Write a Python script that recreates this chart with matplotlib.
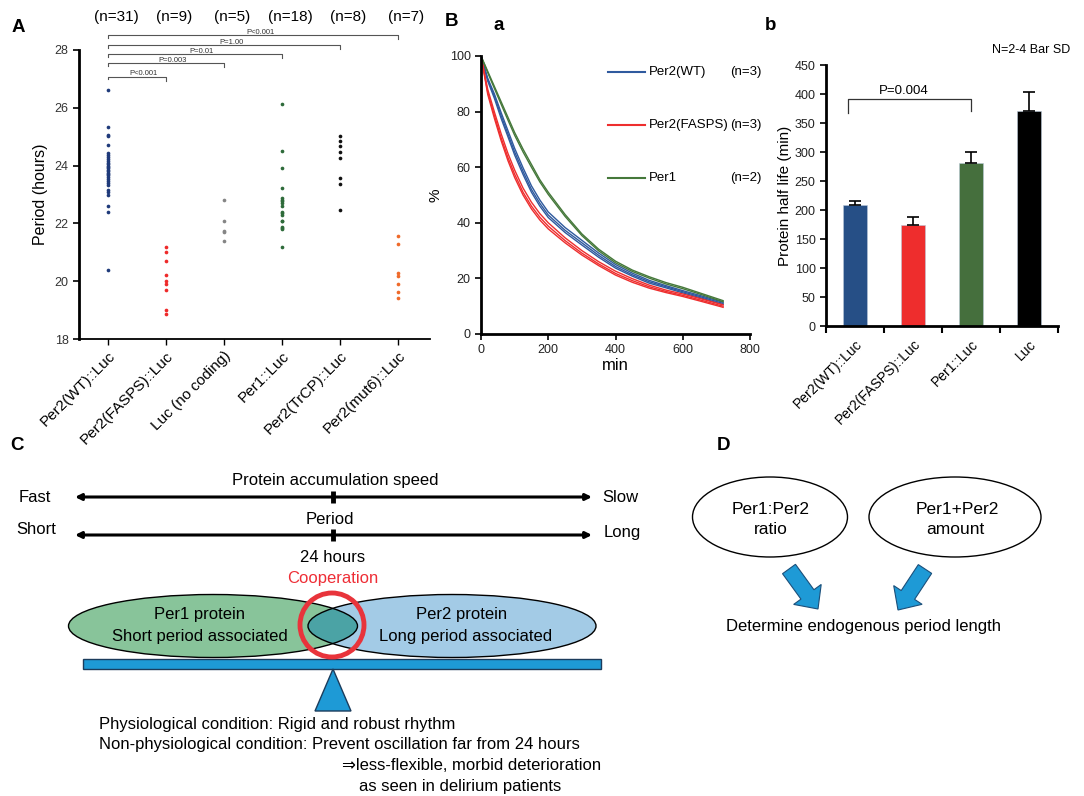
import matplotlib.pyplot as plt
import matplotlib as mpl
from matplotlib.patches import Ellipse, Circle, Rectangle, Polygon, FancyArrow

mpl.rcParams["font.family"] = ["Liberation Sans", "DejaVu Sans"]

W, H = 1084, 796

# ---------------- Panel A: period per construct ----------------
constructs = ["Per2(WT)::Luc", "Per2(FASPS)::Luc", "Luc (no coding)",
              "Per1::Luc", "Per2(TrCP)::Luc", "Per2(mut6)::Luc"]
n_labels = ["(n=31)", "(n=9)", "(n=5)", "(n=18)", "(n=8)", "(n=7)"]
period_wt = [26.6, 25.33, 25.05, 25.02, 24.73, 24.44, 24.38, 24.3, 24.22,
             24.15, 24.1, 24.05, 24.0, 23.95, 23.9, 23.85, 23.8, 23.75,
             23.72, 23.68, 23.62, 23.55, 23.45, 23.4, 23.34, 23.17, 23.1,
             23.0, 22.6, 22.4, 20.4]
period_fasps = [21.2, 21.0, 20.69, 20.2, 19.99, 19.9, 19.69, 18.99, 18.88]
period_luc = [22.81, 22.1, 21.72, 21.7, 21.4]
period_per1 = [26.14, 24.52, 23.92, 23.21, 22.88, 22.82, 22.76, 22.7, 22.61,
               22.4, 22.35, 22.29, 22.1, 22.07, 21.88, 21.84, 21.8, 21.2]
period_trcp = [25.02, 24.84, 24.67, 24.46, 24.25, 23.57, 23.35, 22.45]
period_mut6 = [21.55, 21.3, 20.27, 20.17, 19.91, 19.62, 19.42]
periods = [period_wt, period_fasps, period_luc, period_per1, period_trcp, period_mut6]
dot_colors = ["#1f3a7a", "#ee2a2a", "#858585", "#2e6b3a", "#111111", "#ef6a2a"]
comparisons = [(1, "P<0.001"), (2, "P=0.003"), (3, "P=0.01"),
               (4, "P=1.00"), (5, "P<0.001")]

# ---------------- Panel B-a: degradation curves ----------------
t_min = [0, 20, 40, 60, 80, 100, 125, 150, 175, 200, 250, 300, 350, 400,
         450, 500, 550, 600, 650, 720]
per2_wt_reps = [
    [100, 91.5, 85.5, 78.5, 72, 65.5, 58.5, 52, 47, 42.8, 37.3, 32.8, 28.3, 24.3, 21.3, 18.8, 17.0, 15.2, 13.5, 11.0],
    [100, 92, 86.3, 79.6, 73.2, 66.8, 59.8, 53.3, 48.2, 43.9, 38.3, 33.7, 29.1, 25.0, 21.9, 19.3, 17.4, 15.6, 13.9, 11.4],
    [100, 91, 84.7, 77.5, 71, 64.4, 57.4, 51, 46, 41.9, 36.5, 32.0, 27.6, 23.7, 20.8, 18.3, 16.6, 14.8, 13.1, 10.6],
]
per2_fasps_reps = [
    [100, 87, 78.5, 70.5, 63.5, 57.5, 51, 46, 42, 38.8, 33.6, 29.1, 25.2, 21.8, 19.2, 17.0, 15.3, 13.9, 12.3, 10.0],
    [100, 88, 79.8, 72, 65, 59, 52.5, 47.4, 43.3, 40.0, 34.6, 30.0, 26.0, 22.6, 19.9, 17.6, 15.8, 14.4, 12.8, 10.5],
    [100, 86.2, 77.5, 69.5, 62.4, 56.3, 50, 45, 41, 37.8, 32.8, 28.4, 24.6, 21.2, 18.6, 16.5, 14.9, 13.5, 11.9, 9.6],
]
per1_reps = [
    [100, 94.5, 89, 83.5, 78, 72.5, 66.5, 61, 55.5, 51, 43, 36, 30.5, 26.2, 23, 20.6, 18.5, 16.8, 14.8, 12.0],
    [100, 94, 88.3, 82.6, 77, 71.5, 65.5, 60, 54.7, 50.2, 42.3, 35.4, 29.9, 25.6, 22.5, 20.1, 18.0, 16.3, 14.4, 11.6],
]
curve_names = ["Per2(WT)", "Per2(FASPS)", "Per1"]
curve_n = ["(n=3)", "(n=3)", "(n=2)"]
curve_colors = ["#2f5a9e", "#ee2e2e", "#45783a"]

# ---------------- Panel B-b: half life ----------------
bar_labels = ["Per2(WT)::Luc", "Per2(FASPS)::Luc", "Per1::Luc", "Luc"]
half_life = [208, 175, 281, 371.5]
half_life_sd = [7.5, 13.5, 19.5, 32]
bar_colors = ["#264f86", "#ee2d2d", "#456f3d", "#000000"]

fig = plt.figure(figsize=(W / 100, H / 100), dpi=100)
fig.patch.set_facecolor("white")


def px_axes(l, t, r, b):
    return fig.add_axes([l / W, 1 - b / H, (r - l) / W, (b - t) / H])


def style_spines(ax, lw_left=2.0, lw_bottom=1.3):
    for s in ("top", "right"):
        ax.spines[s].set_visible(False)
    ax.spines["left"].set_linewidth(lw_left)
    ax.spines["bottom"].set_linewidth(lw_bottom)


# ---- A
axA = px_axes(79, 50, 430, 339)
for i, vals in enumerate(periods):
    axA.scatter([i] * len(vals), vals, s=7, color=dot_colors[i], zorder=3, linewidths=0)
axA.set_xlim(-0.5, 5.55)
axA.set_ylim(18, 28)
axA.set_yticks([18, 20, 22, 24, 26, 28])
axA.set_xticks(range(len(constructs)))
axA.set_xticklabels(constructs, rotation=45, ha="right", rotation_mode="anchor", fontsize=11)
axA.tick_params(axis="y", labelsize=9, labelcolor="#333333", length=4, width=1.2)
axA.tick_params(axis="x", length=4, width=1, pad=3)
axA.set_ylabel("Period (hours)", fontsize=11.5, labelpad=5)
style_spines(axA)

bracket_y = [27.08, 27.54, 27.85, 28.17, 28.52]
for (j, ptxt), y in zip(comparisons, bracket_y):
    axA.plot([0, 0, j, j], [y - 0.1, y, y, y - 0.14], color="#555555", lw=0.8,
             clip_on=False)
    axA.text(j / 2 + 0.12, y - 0.03, ptxt, ha="center", va="bottom", fontsize=5.5,
             color="#333333", clip_on=False)
for i, lab in enumerate(n_labels):
    axA.text(i + 0.14, 29.15, lab, ha="center", va="center", fontsize=11, clip_on=False)

# ---- B a
axB = px_axes(481, 56, 750, 334)
for reps, col in zip([per2_wt_reps, per2_fasps_reps, per1_reps], curve_colors):
    for r in reps:
        axB.plot(t_min, r, color=col, lw=1.0)
axB.set_xlim(0, 800)
axB.set_ylim(0, 100)
axB.set_xticks([0, 200, 400, 600, 800])
axB.set_yticks([0, 20, 40, 60, 80, 100])
axB.tick_params(labelsize=9, labelcolor="#222222", length=4, width=1.2)
axB.set_xlabel("min", fontsize=12, labelpad=1)
axB.set_ylabel("%", fontsize=11, labelpad=5)
style_spines(axB, 2.0, 2.0)
leg_y = [94.2, 75.2, 56.1]
for name, nn, col, y in zip(curve_names, curve_n, curve_colors, leg_y):
    axB.plot([377, 488], [y, y], color=col, lw=1.5, clip_on=False)
    axB.text(498, y, name, va="center", fontsize=9.5, clip_on=False)
    axB.text(742, y, nn, va="center", fontsize=9.5, clip_on=False)

# ---- B b
axC = px_axes(826, 65, 1058, 326)
xb = list(range(len(bar_labels)))
axC.bar(xb, half_life, width=0.42, color=bar_colors, edgecolor="#b8c8d8", linewidth=0.4,
        yerr=[[0] * len(half_life_sd), half_life_sd], capsize=4,
        error_kw=dict(lw=1.2, capthick=1.2, ecolor="black"))
axC.set_xlim(-0.5, 3.5)
axC.set_ylim(0, 450)
axC.set_yticks(range(0, 451, 50))
axC.set_xticks(xb)
axC.set_xticklabels(bar_labels, rotation=45, ha="right", rotation_mode="anchor", fontsize=10)
axC.set_xticks([-0.5, 0.5, 1.5, 2.5, 3.5], minor=True)
axC.tick_params(axis="x", which="major", length=0, pad=8)
axC.tick_params(axis="x", which="minor", length=5, width=1.5)
axC.tick_params(axis="y", labelsize=9, labelcolor="#222222", length=4, width=1.2)
axC.set_ylabel("Protein half life (min)", fontsize=11, labelpad=2)
style_spines(axC, 2.0, 2.0)
axC.plot([-0.12, -0.12, 2.0, 2.0], [368, 391, 391, 370], color="#333333", lw=0.9)
axC.text(0.84, 394, "P=0.004", ha="center", va="bottom", fontsize=9.5)

# ---- overlay (panel letters, C, D)
ov = fig.add_axes([0, 0, 1, 1])
ov.set_xlim(0, W)
ov.set_ylim(H, 0)
ov.axis("off")
ov.patch.set_alpha(0)

for lab, x, y in [("A", 18, 27), ("B", 452, 21), ("a", 499, 25), ("b", 771, 26),
                  ("C", 17, 446), ("D", 724, 446)]:
    ov.text(x, y, lab, fontsize=13.5, fontweight="bold", ha="center", va="center")
ov.text(1070, 50, "N=2-4 Bar SD", fontsize=9, ha="right", va="center")

# C: scales
fs = 12
ov.text(335, 481, "Protein accumulation speed", fontsize=fs, ha="center", va="center")
ov.text(35, 497, "Fast", fontsize=fs, ha="center", va="center")
ov.text(620, 497, "Slow", fontsize=fs, ha="center", va="center")
ov.text(330, 520, "Period", fontsize=fs, ha="center", va="center")
ov.text(36, 530, "Short", fontsize=fs, ha="center", va="center")
ov.text(622, 533, "Long", fontsize=fs, ha="center", va="center")
for y in (497, 535):
    ov.annotate("", xy=(75, y), xytext=(592, y),
                arrowprops=dict(arrowstyle="<|-|>", lw=2.2, color="black",
                                mutation_scale=9, shrinkA=0, shrinkB=0))
    ov.plot([333, 333], [y - 6, y + 6], color="black", lw=3.5, solid_capstyle="butt")
ov.text(333, 557, "24 hours", fontsize=fs, ha="center", va="center")
ov.text(333, 578, "Cooperation", fontsize=fs, ha="center", va="center", color="#ee2e36")

# C: ellipses
g_c, g_w = (213, 626), 289
b_c, b_w = (452, 626), 288
e_h = 63
green = Ellipse(g_c, g_w, e_h, fc="#88c49a", ec="none", zorder=2)
blue = Ellipse(b_c, b_w, e_h, fc="#a3cbe6", ec="none", zorder=2)
ov.add_patch(green)
ov.add_patch(blue)
overlap = Ellipse(g_c, g_w, e_h, fc="#4ba3a5", ec="none", zorder=3)
ov.add_patch(overlap)
overlap.set_clip_path(blue)
ov.add_patch(Ellipse(g_c, g_w, e_h, fc="none", ec="black", lw=1.0, zorder=4))
ov.add_patch(Ellipse(b_c, b_w, e_h, fc="none", ec="black", lw=1.0, zorder=4))
ov.add_patch(Circle((332, 625), 32, fc="none", ec="#e8343b", lw=3.5, zorder=5))
ov.text(200, 614, "Per1 protein", fontsize=fs, ha="center", va="center", zorder=6)
ov.text(200, 636, "Short period associated", fontsize=fs, ha="center", va="center", zorder=6)
ov.text(462, 614, "Per2 protein", fontsize=fs, ha="center", va="center", zorder=6)
ov.text(466, 636, "Long period associated", fontsize=fs, ha="center", va="center", zorder=6)

# C: seesaw
ov.add_patch(Rectangle((83, 659), 518, 10, fc="#1e9ad6", ec="#1b3c5c", lw=1.0, zorder=3))
ov.add_patch(Polygon([(333, 669), (315, 711), (351, 711)], closed=True,
                     fc="#1e9ad6", ec="#1b3c5c", lw=1.0, zorder=3))
ov.text(99, 724, "Physiological condition: Rigid and robust rhythm", fontsize=fs, va="center")
ov.text(99, 745, "Non-physiological condition: Prevent oscillation far from 24 hours",
        fontsize=fs, va="center")
ov.text(342, 766, "\u21d2less-flexible, morbid deterioration", fontsize=fs, va="center")
ov.text(359, 787, "as seen in delirium patients", fontsize=fs, va="center")

# D
ov.add_patch(Ellipse((770, 517), 155, 80, fc="white", ec="black", lw=1.0))
ov.add_patch(Ellipse((955, 517), 172, 80, fc="white", ec="black", lw=1.0))
ov.text(771, 509, "Per1:Per2", fontsize=12.5, ha="center", va="center")
ov.text(771, 530, "ratio", fontsize=12.5, ha="center", va="center")
ov.text(957, 509, "Per1+Per2", fontsize=12.5, ha="center", va="center")
ov.text(955, 530, "amount", fontsize=12.5, ha="center", va="center")
for (x0, y0, dx, dy) in [(789, 569, 29, 40), (925, 569, -27, 41)]:
    ov.add_patch(FancyArrow(x0, y0, dx, dy, width=16, head_width=34, head_length=18,
                            length_includes_head=True, fc="#1e9ad6", ec="#1b4f7a", lw=0.8))
ov.text(863, 627, "Determine endogenous period length", fontsize=12, ha="center", va="center")

fig.savefig("out.png", dpi=100, facecolor="white")
